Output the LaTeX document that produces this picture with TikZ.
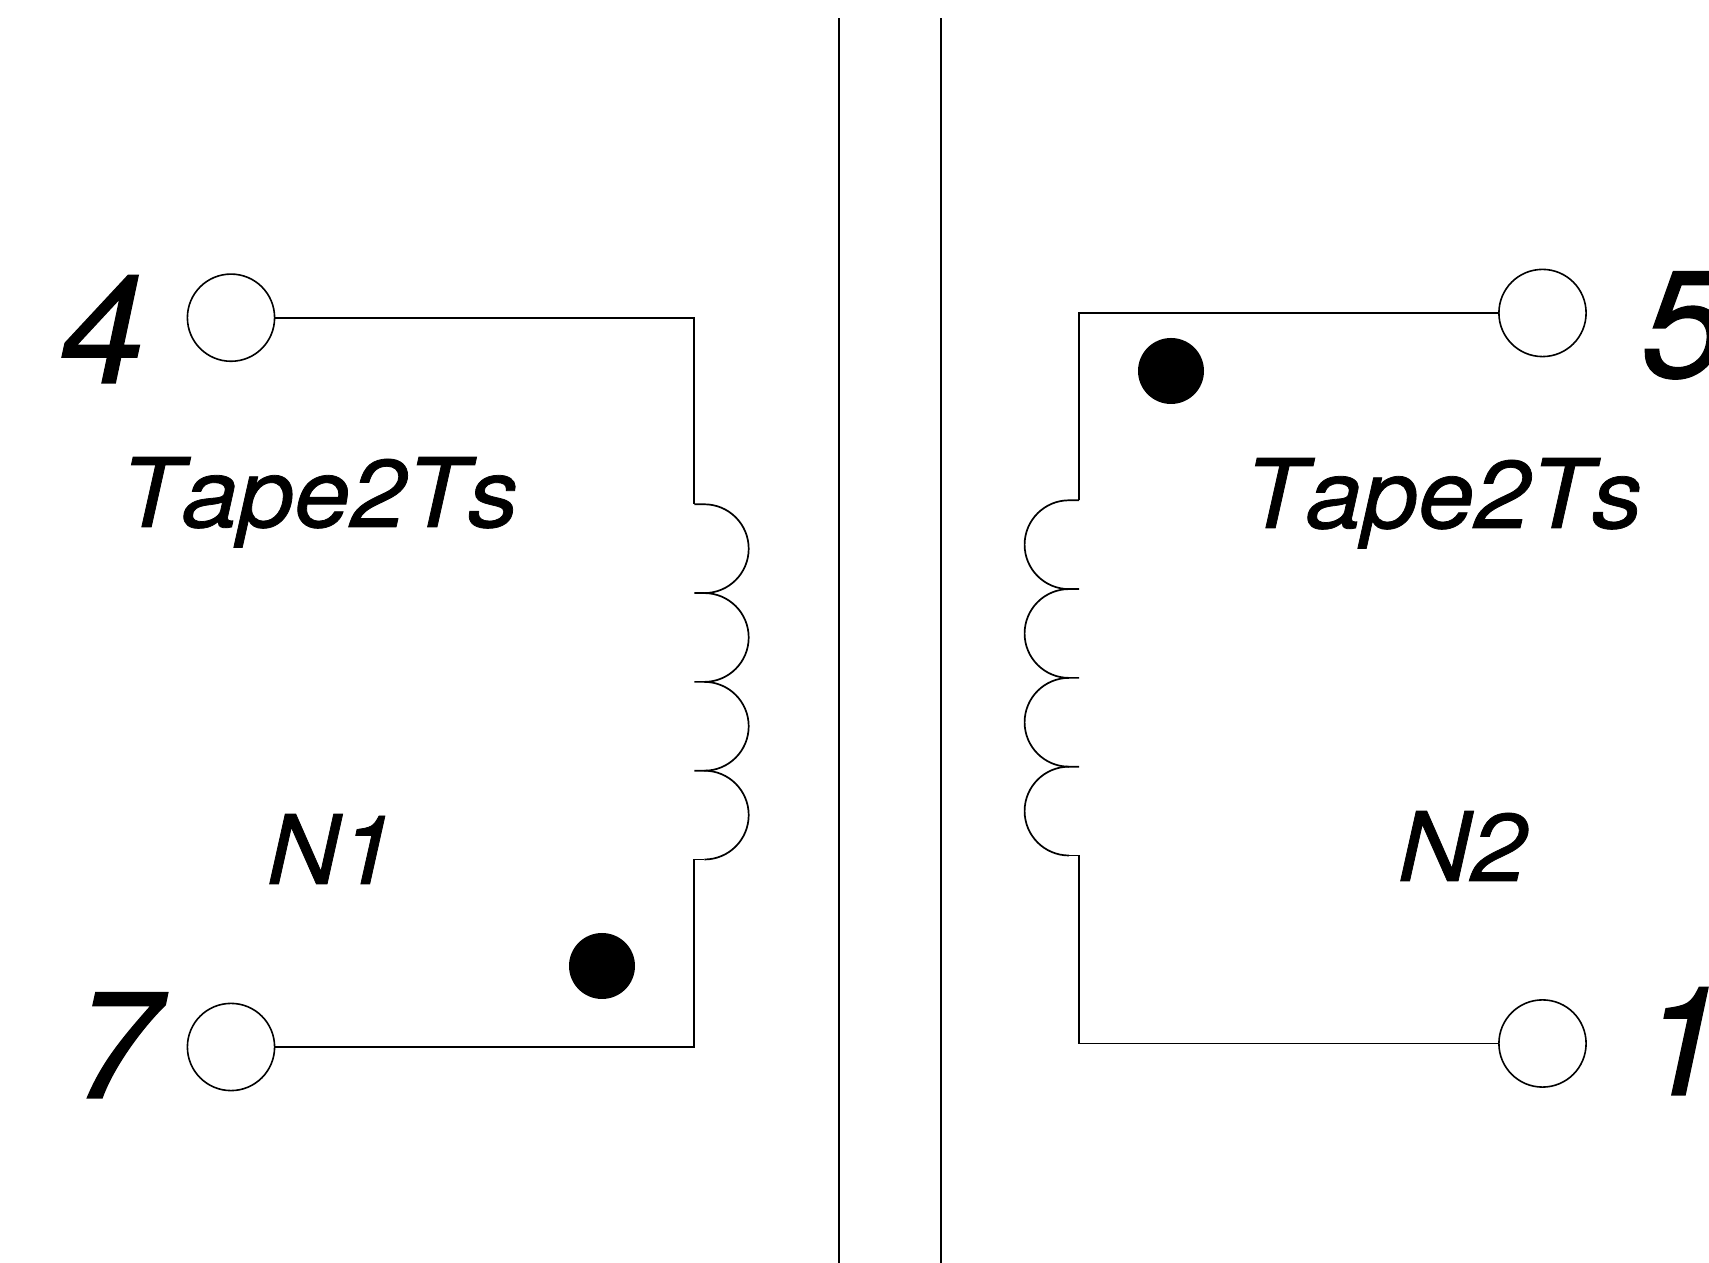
\documentclass[tikz,border=0pt]{standalone}
\usepackage{fontspec}
\setmainfont[Kerning=Off]{TeX Gyre Heros}
\newfontfamily\midfont[Kerning=Off,FakeStretch=1.05,FakeBold=0.8]{TeX Gyre Heros}
\newfontfamily\bigfont[Kerning=Off,FakeBold=0.8]{TeX Gyre Heros}
\tikzset{
  wire/.style={line width=0.85pt,black},
  terminal/.style={circle,draw=black,line width=0.8pt,minimum size=43.6pt,inner sep=0pt,outer sep=0pt},
  phasedot/.style={circle,fill=black,minimum size=33pt,inner sep=0pt,outer sep=0pt},
  bigtext/.style={anchor=base west,inner sep=0pt,outer sep=0pt,font=\fontsize{76pt}{76pt}\bigfont\itshape},
  midtext/.style={anchor=base west,inner sep=0pt,outer sep=0pt,font=\fontsize{48pt}{48pt}\midfont\itshape}
}
\begin{document}
\begin{tikzpicture}[x=0.5pt,y=0.5pt]
\useasboundingbox (0,1) rectangle (1709,1264);
\clip (0,1) rectangle (1709,1264);
% core
\coordinate (coreAtop) at (839,1245.5);
\coordinate (coreAbot) at (839,0);
\coordinate (coreBtop) at (941,1245.5);
\coordinate (coreBbot) at (941,0);
\draw[wire] (coreAtop) -- (coreAbot);
\draw[wire] (coreBtop) -- (coreBbot);
% terminals
\node[terminal] (t4) at (231,946.3) {};
\node[terminal] (t7) at (231,217) {};
\node[terminal] (t5) at (1542.5,951) {};
\node[terminal] (t1) at (1542.5,220.5) {};
% left winding
\coordinate (L0) at (694.3,759.7);
\coordinate (L1) at (694.3,670.9);
\coordinate (L2) at (694.3,582.1);
\coordinate (L3) at (694.3,493.3);
\coordinate (L4) at (694.3,404.5);
\draw[wire] (t4.east) -| (L0);
\draw[wire] (t7.east) -| (L4);
\foreach \c in {L0,L1,L2,L3}
  \draw[wire] (\c) -- ++(10,0) arc[start angle=90,end angle=-90,radius=44.4];
\draw[wire] (L4) -- ++(10,0);
% right winding
\coordinate (R0) at (1079,763.7);
\coordinate (R1) at (1079,674.9);
\coordinate (R2) at (1079,586.1);
\coordinate (R3) at (1079,497.3);
\coordinate (R4) at (1079,408.5);
\draw[wire] (t5.west) -| (R0);
\draw[wire] (t1.west) -| (R4);
\foreach \c in {R0,R1,R2,R3}
  \draw[wire] (\c) -- ++(-10,0) arc[start angle=90,end angle=270,radius=44.4];
\draw[wire] (R4) -- ++(-10,0);
% dots
\node[phasedot] (dotL) at (602,298) {};
\node[phasedot] (dotR) at (1171,893) {};
% labels
\node[bigtext] (n4) at (60,881) {4};
\node[bigtext] (n7) at (74,166) {7};
\node[bigtext] (n5) at (1642,887) {5};
\node[bigtext] (n1) at (1640,169) {1};
\node[midtext] (tapeL) at (120.5,737) {Tape2Ts};
\node[midtext] (tapeR) at (1244.5,736) {Tape2Ts};
\node[midtext] (nL) at (267,380) {N1};
\node[midtext] (nR) at (1398,383) {N2};
\end{tikzpicture}
\end{document}
